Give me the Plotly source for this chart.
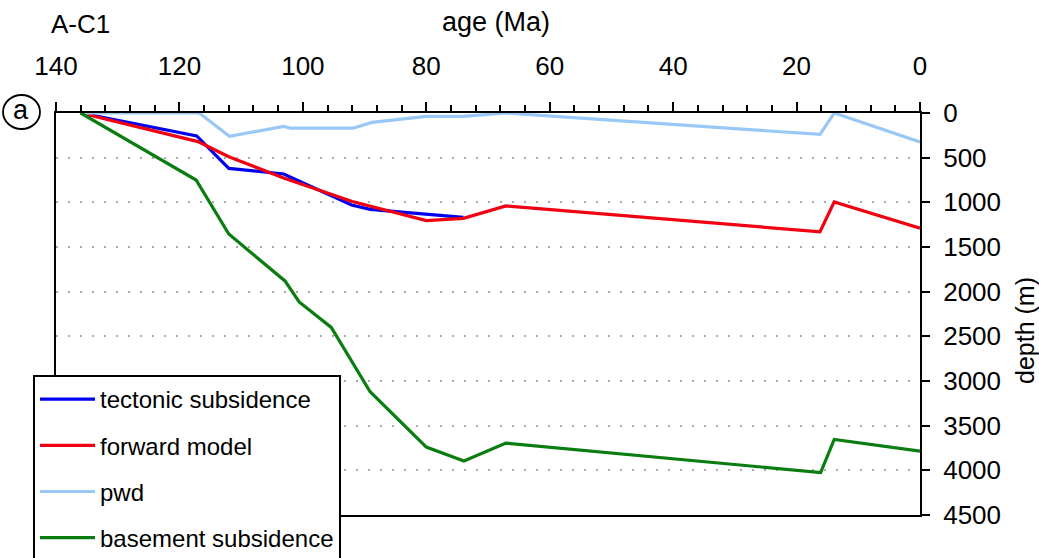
import plotly.graph_objects as go

# Subsidence history for well A-C1: age in Ma, depth in metres
age_tectonic = [136, 117.2, 112.0, 103.1, 92.1, 89.1, 74.0]
depth_tectonic = [0, 257, 620, 683, 1030, 1078, 1168]

age_forward = [136, 117.0, 112.0, 103.0, 92.0, 80.0, 74.0, 67.1, 16.2, 13.9, 0]
depth_forward = [0, 320, 490, 730, 990, 1205, 1180, 1040, 1330, 995, 1290]

age_pwd = [136, 116.8, 111.9, 103.1, 102.0, 91.9, 88.8, 80.0, 74.0, 67.1, 16.2, 13.9, 0]
depth_pwd = [0, 0, 260, 150, 170, 170, 105, 37, 37, 0, 240, 0, 325]

age_basement = [136, 117.3, 112.0, 102.9, 100.6, 95.4, 89.1, 80.0, 73.9, 67.1, 16.1, 13.9, 0]
depth_basement = [0, 750, 1355, 1880, 2115, 2400, 3120, 3740, 3895, 3695, 4025, 3655, 3785]

series = [
    ("tectonic subsidence", age_tectonic, depth_tectonic, "#0000f0"),
    ("forward model", age_forward, depth_forward, "#f00010"),
    ("pwd", age_pwd, depth_pwd, "#99c8f6"),
    ("basement subsidence", age_basement, depth_basement, "#0a7d10"),
]

FONT = "Liberation Sans, Arial, sans-serif"
W, H = 1039, 558
L, R, T, B = 56, 119, 113, 43
PW, PH = W - L - R, H - T - B


def px_x(px):
    return (px - L) / PW


def px_y(py):
    return (H - B - py) / PH


fig = go.Figure()
for name, ages, depths, color in series:
    fig.add_trace(go.Scatter(
        x=ages, y=depths, mode="lines", name=name, legendgroup=name,
        line=dict(color=color, width=3.2),
    ))

fig.update_layout(
    width=W, height=H,
    margin=dict(l=L, r=R, t=T, b=B, autoexpand=False),
    paper_bgcolor="white", plot_bgcolor="white",
    font=dict(family=FONT, color="black"),
    showlegend=True,
    legend=dict(
        x=px_x(33), y=px_y(375), xanchor="left", yanchor="top",
        bgcolor="white", bordercolor="black", borderwidth=2,
        font=dict(size=24, family=FONT), itemwidth=55,
        tracegroupgap=12,
    ),
    xaxis=dict(
        range=[140, 0], side="top", showline=True, linecolor="black",
        linewidth=2, mirror=True, ticks="outside", ticklen=9, tickwidth=2,
        tickcolor="black", dtick=20, tick0=0, showgrid=False, zeroline=False,
        tickfont=dict(size=26), ticklabelstandoff=17, layer="below traces",
        minor=dict(dtick=4, tick0=0, ticks="outside", ticklen=6,
                   tickwidth=2, tickcolor="black", showgrid=False),
    ),
    yaxis=dict(
        range=[4500, 0], side="right", showline=True, linecolor="black",
        linewidth=2, mirror=True, ticks="outside", ticklen=8, tickwidth=2,
        tickcolor="black", dtick=500, tick0=0, zeroline=False,
        showgrid=True, gridcolor="#a8a8a8", gridwidth=1.6,
        griddash="2px,10px", tickfont=dict(size=26),
        ticklabelstandoff=8, layer="below traces",
    ),
    annotations=[
        dict(text="A-C1", xref="paper", yref="paper", x=px_x(49), y=px_y(24),
             xanchor="left", yanchor="middle", showarrow=False,
             font=dict(size=26)),
        dict(text="age (Ma)", xref="paper", yref="paper", x=px_x(496),
             y=px_y(22), xanchor="center", yanchor="middle", showarrow=False,
             font=dict(size=27)),
        dict(text="depth (m)", xref="paper", yref="paper", x=px_x(1025),
             y=px_y(331), xanchor="center", yanchor="middle", showarrow=False,
             textangle=-90, font=dict(size=25)),
        dict(text="a", xref="paper", yref="paper", x=px_x(21), y=px_y(110),
             xanchor="center", yanchor="middle", showarrow=False,
             font=dict(size=27)),
    ],
    shapes=[
        dict(type="circle", xref="paper", yref="paper",
             x0=px_x(3), x1=px_x(40), y0=px_y(129), y1=px_y(95),
             line=dict(color="black", width=1.8)),
    ],
)

fig.write_html("out.html")
